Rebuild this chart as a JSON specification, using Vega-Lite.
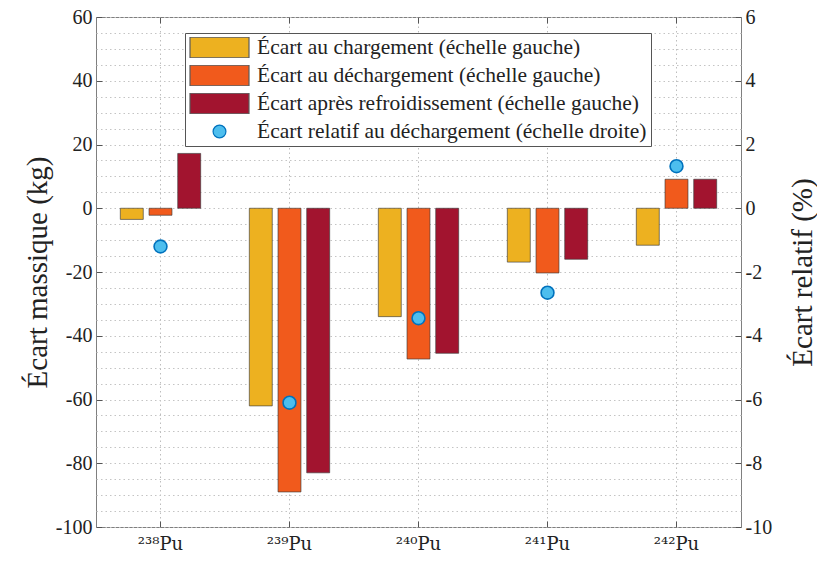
{
  "$schema": "https://vega.github.io/schema/vega-lite/v6.json",
  "autosize": {"type": "none"},
  "width": 645,
  "height": 510,
  "padding": {"left": 96, "top": 17, "right": 76, "bottom": 40},
  "background": "white",
  "config": {
    "font": "Liberation Serif",
    "view": {"stroke": "#7f7f7f", "strokeWidth": 1},
    "axis": {
      "labelFont": "Liberation Serif",
      "titleFont": "Liberation Serif",
      "labelColor": "#222",
      "titleColor": "#222",
      "titleFontWeight": "normal",
      "domain": false,
      "tickColor": "#555"
    },
    "legend": {
      "labelFont": "Liberation Serif",
      "labelFontSize": 21.5,
      "labelColor": "#222",
      "labelLimit": 0,
      "labelOffset": 7,
      "rowPadding": 6,
      "padding": 4,
      "columns": 1,
      "clipHeight": 21,
      "fillColor": "white",
      "strokeColor": "#555",
      "symbolStrokeWidth": 1.2,
      "symbolOpacity": 1
    }
  },
  "datasets": {
    "bars": [
      {"iso": "²³⁸Pu", "serie": "Écart au chargement (échelle gauche)", "kg": -3.5},
      {"iso": "²³⁸Pu", "serie": "Écart au déchargement (échelle gauche)", "kg": -2.2},
      {"iso": "²³⁸Pu", "serie": "Écart après refroidissement (échelle gauche)", "kg": 17.2},
      {"iso": "²³⁹Pu", "serie": "Écart au chargement (échelle gauche)", "kg": -62},
      {"iso": "²³⁹Pu", "serie": "Écart au déchargement (échelle gauche)", "kg": -89},
      {"iso": "²³⁹Pu", "serie": "Écart après refroidissement (échelle gauche)", "kg": -83},
      {"iso": "²⁴⁰Pu", "serie": "Écart au chargement (échelle gauche)", "kg": -34},
      {"iso": "²⁴⁰Pu", "serie": "Écart au déchargement (échelle gauche)", "kg": -47.3},
      {"iso": "²⁴⁰Pu", "serie": "Écart après refroidissement (échelle gauche)", "kg": -45.5},
      {"iso": "²⁴¹Pu", "serie": "Écart au chargement (échelle gauche)", "kg": -16.9},
      {"iso": "²⁴¹Pu", "serie": "Écart au déchargement (échelle gauche)", "kg": -20.3},
      {"iso": "²⁴¹Pu", "serie": "Écart après refroidissement (échelle gauche)", "kg": -16},
      {"iso": "²⁴²Pu", "serie": "Écart au chargement (échelle gauche)", "kg": -11.6},
      {"iso": "²⁴²Pu", "serie": "Écart au déchargement (échelle gauche)", "kg": 9.1},
      {"iso": "²⁴²Pu", "serie": "Écart après refroidissement (échelle gauche)", "kg": 9.1}
    ],
    "points": [
      {"iso": "²³⁸Pu", "serie": "Écart relatif au déchargement (échelle droite)", "rel": -1.2},
      {"iso": "²³⁹Pu", "serie": "Écart relatif au déchargement (échelle droite)", "rel": -6.1},
      {"iso": "²⁴⁰Pu", "serie": "Écart relatif au déchargement (échelle droite)", "rel": -3.45},
      {"iso": "²⁴¹Pu", "serie": "Écart relatif au déchargement (échelle droite)", "rel": -2.65},
      {"iso": "²⁴²Pu", "serie": "Écart relatif au déchargement (échelle droite)", "rel": 1.32}
    ]
  },
  "layer": [
    {
      "data": {"name": "bars"},
      "mark": {"type": "bar", "stroke": "#3a3a3a", "strokeWidth": 0.8, "strokeOpacity": 0.8},
      "encoding": {
        "x": {
          "field": "iso", "type": "nominal", "sort": null,
          "scale": {"paddingInner": 0.377, "paddingOuter": 0.1885},
          "axis": {
            "orient": "bottom", "title": null, "labelAngle": 0,
            "labelFont": "DejaVu Serif",
            "labelFontSize": 18, "labelPadding": 14, "labelColor": "#222",
            "tickSize": -6, "grid": true, "gridDash": [1.5, 3], "gridColor": "#bdbdbd"
          }
        },
        "xOffset": {
          "field": "serie", "type": "nominal", "sort": null,
          "scale": {"paddingInner": 0.2, "paddingOuter": 0}
        },
        "y": {
          "field": "kg", "type": "quantitative",
          "scale": {"domain": [-100, 60], "nice": false, "zero": false},
          "axis": {
            "orient": "left",
            "values": [-100, -95, -90, -85, -80, -75, -70, -65, -60, -55, -50, -45, -40, -35, -30, -25, -20, -15, -10, -5, 0, 5, 10, 15, 20, 25, 30, 35, 40, 45, 50, 55, 60],
            "labelExpr": "datum.value % 20 === 0 ? toString(datum.value) : ''",
            "labelFontSize": 20, "labelPadding": 10,
            "tickSize": -6,
            "tickOpacity": {"condition": {"test": "datum.value % 20 !== 0", "value": 0}, "value": 1},
            "grid": true, "gridDash": [1.5, 3], "gridColor": "#c4c4c4",
            "title": "Écart massique (kg)",
            "titleFontSize": 29,
            "titleAngle": -90,
            "titleAlign": "center",
            "titleBaseline": "alphabetic",
            "titleX": -50,
            "titleY": 255
          }
        },
        "color": {
          "field": "serie", "type": "nominal",
          "scale": {
            "domain": ["Écart au chargement (échelle gauche)", "Écart au déchargement (échelle gauche)", "Écart après refroidissement (échelle gauche)", "Écart relatif au déchargement (échelle droite)"],
            "range": ["#EDB120", "#F15A1C", "#A2142F", "#4DBEEE"]
          },
          "legend": {
            "title": null,
            "orient": "none",
            "legendX": 89,
            "legendY": 16,
            "direction": "vertical",
            "columns": 1,
            "clipHeight": 21,
            "symbolType": "M-1,-0.35H1V0.35H-1Z",
            "symbolSize": 3481
          }
        }
      }
    },
    {
      "data": {"name": "points"},
      "mark": {"type": "point", "filled": true, "strokeWidth": 1.6, "opacity": 1},
      "encoding": {
        "x": {
          "field": "iso", "type": "nominal", "sort": null,
          "axis": {"orient": "top", "title": null, "labels": false, "tickSize": -6, "grid": false}
        },
        "y": {
          "field": "rel", "type": "quantitative",
          "scale": {"domain": [-10, 6], "nice": false, "zero": false},
          "axis": {
            "orient": "right",
            "values": [-10, -8, -6, -4, -2, 0, 2, 4, 6],
            "labelExpr": "toString(datum.value)",
            "labelFontSize": 20, "labelPadding": 10,
            "tickSize": -6,
            "grid": false,
            "title": "Écart relatif (%)",
            "titleFontSize": 29,
            "titleAngle": -90,
            "titleAlign": "center",
            "titleBaseline": "alphabetic",
            "titleX": 70,
            "titleY": 255
          }
        },
        "color": {"field": "serie", "type": "nominal", "legend": null},
        "stroke": {
          "field": "serie", "type": "nominal",
          "scale": {
            "domain": ["Écart au chargement (échelle gauche)", "Écart au déchargement (échelle gauche)", "Écart après refroidissement (échelle gauche)", "Écart relatif au déchargement (échelle droite)"],
            "range": ["#5a5a5a", "#5a5a5a", "#5a5a5a", "#0072BD"]
          },
          "legend": {"title": null, "orient": "none", "legendX": 89, "legendY": 16, "direction": "vertical", "columns": 1, "clipHeight": 21}
        },
        "shape": {
          "field": "serie", "type": "nominal",
          "scale": {
            "domain": ["Écart au chargement (échelle gauche)", "Écart au déchargement (échelle gauche)", "Écart après refroidissement (échelle gauche)", "Écart relatif au déchargement (échelle droite)"],
            "range": ["M-1,-0.35H1V0.35H-1Z", "M-1,-0.35H1V0.35H-1Z", "M-1,-0.35H1V0.35H-1Z", "circle"]
          },
          "legend": {"title": null, "orient": "none", "legendX": 89, "legendY": 16, "direction": "vertical", "columns": 1, "clipHeight": 21}
        },
        "size": {
          "field": "serie", "type": "nominal",
          "scale": {
            "type": "ordinal",
            "domain": ["Écart au chargement (échelle gauche)", "Écart au déchargement (échelle gauche)", "Écart après refroidissement (échelle gauche)", "Écart relatif au déchargement (échelle droite)"],
            "range": [3481, 3481, 3481, 165]
          },
          "legend": {"title": null, "orient": "none", "legendX": 89, "legendY": 16, "direction": "vertical", "columns": 1, "clipHeight": 21}
        }
      }
    }
  ],
  "resolve": {"scale": {"y": "independent"}, "axis": {"x": "independent", "y": "independent"}}
}
